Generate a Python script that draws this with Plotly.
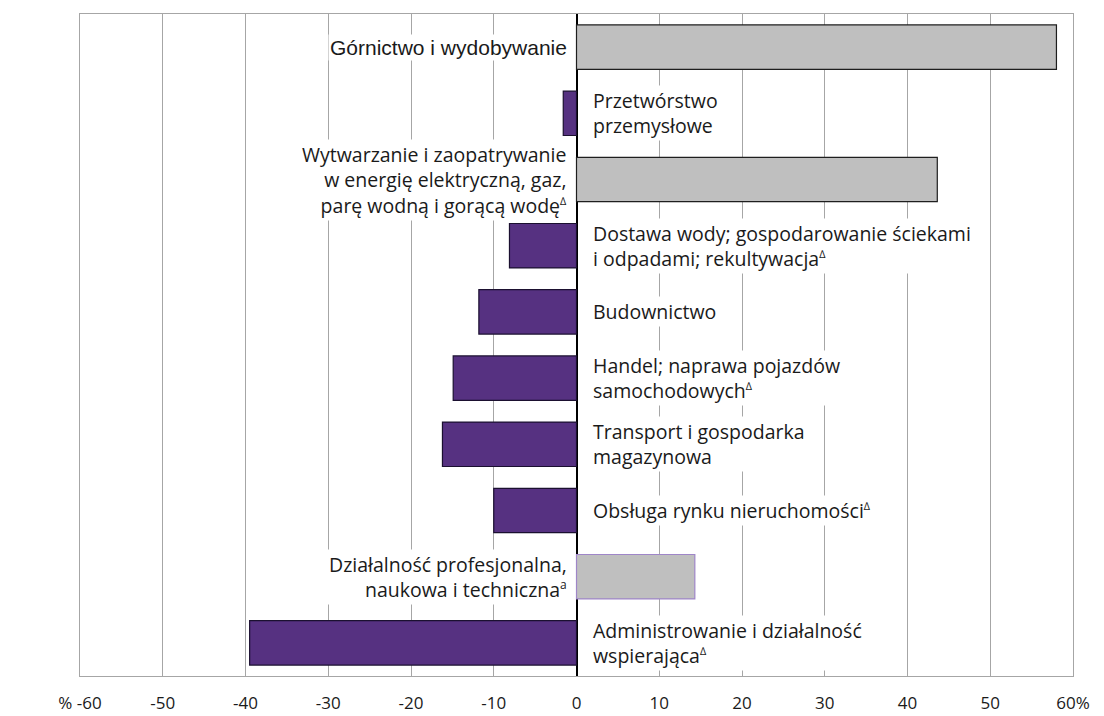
import plotly.graph_objects as go

SUP = "<sup><span style='font-size:11px'>∆</span></sup>"
categories = [
    "Górnictwo i wydobywanie",
    "Przetwórstwo<br>przemysłowe",
    "Wytwarzanie i zaopatrywanie<br>w energię elektryczną, gaz,<br>parę wodną i gorącą wodę" + SUP,
    "Dostawa wody; gospodarowanie ściekami<br>i odpadami; rekultywacja" + SUP,
    "Budownictwo",
    "Handel; naprawa pojazdów<br>samochodowych" + SUP,
    "Transport i gospodarka<br>magazynowa",
    "Obsługa rynku nieruchomości" + SUP,
    "Działalność profesjonalna,<br>naukowa i techniczna<sup><span style='font-size:12px'>a</span></sup>",
    "Administrowanie i działalność<br>wspierająca" + SUP,
]
values = [58.0, -1.6, 43.6, -8.1, -11.8, -14.9, -16.2, -10.0, 14.3, -39.5]
tick_vals = [-60, -50, -40, -30, -20, -10, 0, 10, 20, 30, 40, 50, 60]
tick_text = ["% -60", "-50", "-40", "-30", "-20", "-10", "0", "10", "20", "30", "40", "50", "60%"]

PURPLE = "#563181"
GRAY = "#BFBFBF"
ids = list(range(len(categories)))

colors = [GRAY if v > 0 else PURPLE for v in values]
line_colors = ["#1e1e1e" if v > 0 else "#1b1030" for v in values]
line_colors[8] = "#9F86C8"

fig = go.Figure(go.Bar(
    x=values, y=ids, orientation="h",
    marker=dict(color=colors, line=dict(color=line_colors, width=1.2)),
    width=0.67, hoverinfo="skip",
))

FONT = "Open Sans, sans-serif"
for i, (c, v) in enumerate(zip(categories, values)):
    if v > 0:
        fig.add_annotation(x=0, y=i, text=c, showarrow=False, xanchor="right",
                           align="right", xshift=-8, bgcolor="white", borderpad=1,
                           font=dict(family=("Liberation Sans, Arial" if i == 0 else FONT),
                                     size=(21 if i == 0 else 19.5), color="#1a1a1a"))
    else:
        fig.add_annotation(x=0, y=i, text=c, showarrow=False, xanchor="left",
                           align="left", xshift=14, bgcolor="white", borderpad=1,
                           font=dict(family=FONT, size=19.5, color="#1a1a1a"))

fig.update_layout(
    width=1104, height=716,
    margin=dict(l=72, r=39, t=6, b=48),
    paper_bgcolor="white", plot_bgcolor="white",
    showlegend=False,
    xaxis=dict(range=[-60, 60], tickvals=tick_vals, ticktext=tick_text,
               showgrid=True, gridcolor="#A6A6A6", gridwidth=1,
               zeroline=True, zerolinecolor="black", zerolinewidth=2,
               showline=True, linecolor="#A6A6A6", linewidth=1, mirror=True,
               ticks="", ticklabelstandoff=12,
               tickfont=dict(family=FONT, size=17, color="#1a1a1a")),
    yaxis=dict(range=[9.5, -0.5], showticklabels=False, showgrid=False,
               zeroline=False, showline=True, linecolor="#A6A6A6", linewidth=1,
               mirror=True, ticks=""),
)

fig.write_html("out.html")
